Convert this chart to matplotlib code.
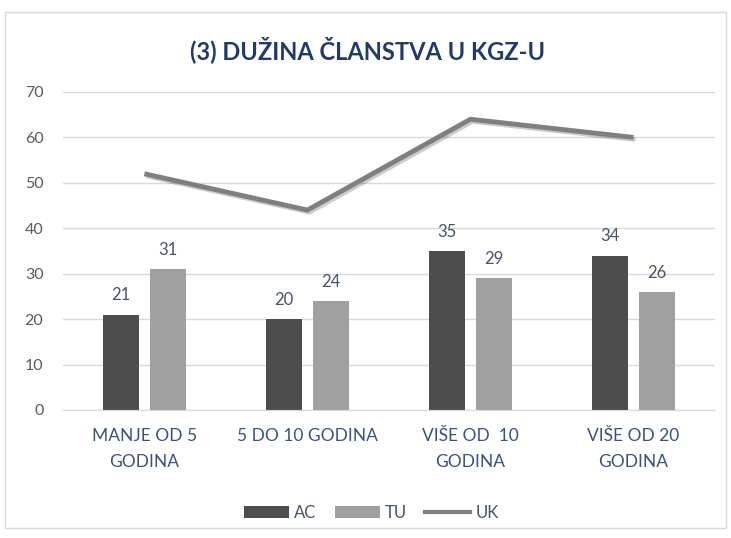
import numpy as np
import matplotlib.pyplot as plt
import matplotlib.patheffects as pe
from matplotlib.patches import Rectangle
from matplotlib.lines import Line2D

categories = ['MANJE OD 5\nGODINA', '5 DO 10 GODINA', 'VIŠE OD  10\nGODINA', 'VIŠE OD 20\nGODINA']
ac = [21, 20, 35, 34]
tu = [31, 24, 29, 26]
uk = [52, 44, 64, 60]

plt.rcParams['font.family'] = ['Lato', 'DejaVu Sans']

fig = plt.figure(figsize=(7.31, 5.38), dpi=100)
ax = fig.add_axes([0.086, 0.238, 0.892, 0.591])

x = np.arange(len(categories))
w = 0.22
off = 0.145
b1 = ax.bar(x - off, ac, w, color='#4d4d4d', label='AC', zorder=2)
b2 = ax.bar(x + off, tu, w, color='#a0a0a0', label='TU', zorder=2)
ax.plot(x, uk, color='#7f7f7f', lw=3.5, label='UK', zorder=3,
        solid_capstyle='butt',
        path_effects=[pe.SimpleLineShadow(offset=(1.5, -1.5), alpha=0.2), pe.Normal()])

lab_col = '#44546a'
for bars in (b1, b2):
    for b in bars:
        ax.annotate(str(int(b.get_height())), (b.get_x() + b.get_width() / 2, b.get_height()),
                    xytext=(0, 8), textcoords='offset points', ha='center', va='bottom',
                    fontsize=12, color=lab_col)

ax.set_ylim(0, 70)
ax.set_xlim(-0.5, 3.5)
ax.set_yticks(range(0, 71, 10))
ax.grid(axis='y', color='#d9d9d9', lw=1, zorder=0)
ax.set_axisbelow(True)
for s in ['top', 'right', 'left']:
    ax.spines[s].set_visible(False)
ax.spines['bottom'].set_color('#d9d9d9')
ax.tick_params(axis='both', length=0)
ax.tick_params(axis='y', labelsize=11.5, labelcolor='#595959', pad=14)
ax.set_xticks(x)
ax.set_xticklabels(categories, fontsize=12.5, color='#3a5282', linespacing=1.8)
ax.tick_params(axis='x', pad=13)

fig.text(0.503, 0.908, '(3) DUŽINA ČLANSTVA U KGZ-U', ha='center', va='center',
         fontsize=17, fontweight='bold', color='#1f3a6b')

uk_handle = Line2D([], [], color='#7f7f7f', lw=3)
leg = fig.legend(handles=[b1, b2, uk_handle], labels=['AC', 'TU', 'UK'],
                 loc='center', bbox_to_anchor=(0.508, 0.047), ncol=3, frameon=False,
                 fontsize=12, handlelength=2.7, handleheight=0.75, columnspacing=1.1,
                 handletextpad=0.3)
for t in leg.get_texts():
    t.set_color('#44546a')

fig.patches.append(Rectangle((0.007, 0.018), 0.986, 0.96, transform=fig.transFigure,
                             fill=False, edgecolor='#d9d9d9', lw=1))

fig.savefig('out.png', dpi=100)
